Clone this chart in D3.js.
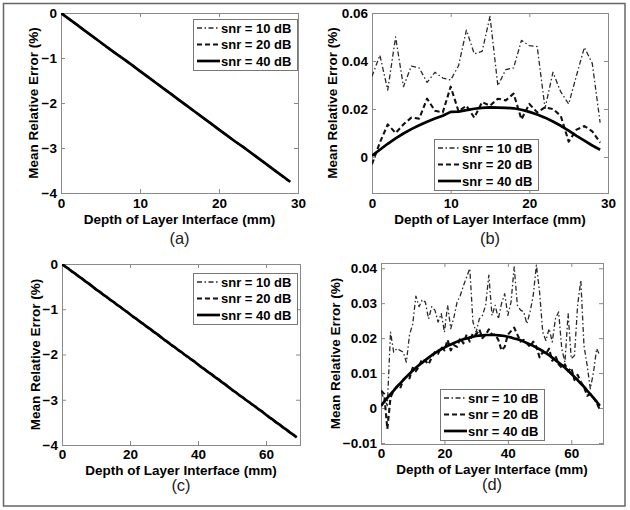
<!DOCTYPE html>
<html><head><meta charset="utf-8">
<script src="https://cdn.jsdelivr.net/npm/d3@7"></script>
<style>body{margin:0;background:#fff}svg{display:block}text{font-family:"Liberation Sans",Arial,Helvetica,sans-serif}</style>
</head><body><svg id="chart" width="630" height="510"></svg>
<script>
// ---------- data ----------
const seriesNames = ["snr = 10 dB", "snr = 20 dB", "snr = 40 dB"];
const captions = ["(a)", "(b)", "(c)", "(d)"];
const xLabel = "Depth of Layer Interface (mm)";
const yLabel = "Mean Relative Error (%)";

const xTicks30 = [0, 10, 20, 30];
const xTicks70 = [0, 20, 40, 60];
const yTicksNeg = [0, -1, -2, -3, -4];
const yTicksB = [0, 0.02, 0.04, 0.06];
const yTicksD = [-0.01, 0, 0.01, 0.02, 0.03, 0.04];

const depth30 = [0,1,2,3,4,5,6,7,8,9,10,11,12,13,14,15,16,17,18,19,20,21,22,23,24,25,26,27,28,29];
const depth70 = [0,1,2,3,4,5,6,7,8,9,10,11,12,13,14,15,16,17,18,19,20,21,22,23,24,25,26,27,28,29,30,31,32,33,34,35,36,37,38,39,40,41,42,43,44,45,46,47,48,49,50,51,52,53,54,55,56,57,58,59,60,61,62,63,64,65,66,67,68,69];

// (a)
const aSnr10 = [0,-0.13,-0.26,-0.39,-0.52,-0.65,-0.78,-0.91,-1.03,-1.16,-1.29,-1.42,-1.55,-1.68,-1.81,-1.94,-2.07,-2.20,-2.33,-2.46,-2.59,-2.72,-2.85,-2.97,-3.10,-3.23,-3.36,-3.49,-3.62,-3.75];
const aSnr20 = [0,-0.13,-0.26,-0.39,-0.52,-0.65,-0.78,-0.91,-1.03,-1.16,-1.29,-1.42,-1.55,-1.68,-1.81,-1.94,-2.07,-2.20,-2.33,-2.46,-2.59,-2.72,-2.85,-2.97,-3.10,-3.23,-3.36,-3.49,-3.62,-3.75];
const aSnr40 = [0,-0.13,-0.26,-0.39,-0.52,-0.65,-0.78,-0.91,-1.03,-1.16,-1.29,-1.42,-1.55,-1.68,-1.81,-1.94,-2.07,-2.20,-2.33,-2.46,-2.59,-2.72,-2.85,-2.97,-3.10,-3.23,-3.36,-3.49,-3.62,-3.75];

// (b)
const bSnr10 = [0.0336,0.0424,0.0279,0.0500,0.0293,0.0379,0.0371,0.0311,0.0353,0.0329,0.0321,0.0380,0.0529,0.0430,0.0440,0.0586,0.0297,0.0364,0.0371,0.0486,0.0464,0.0460,0.0203,0.0353,0.0271,0.0221,0.0340,0.0457,0.0390,0.0143];
const bSnr20 = [-0.0030,0.0060,0.0136,0.0100,0.0136,0.0164,0.0160,0.0243,0.0193,0.0186,0.0293,0.0190,0.0214,0.0164,0.0229,0.0214,0.0243,0.0236,0.0264,0.0157,0.0221,0.0186,0.0207,0.0200,0.0171,0.0064,0.0114,0.0129,0.0107,0.0060];
const bSnr40 = [0.0005,0.0030,0.0055,0.0078,0.0098,0.0116,0.0132,0.0147,0.0160,0.0172,0.0188,0.0189,0.0195,0.0201,0.0205,0.0207,0.0206,0.0205,0.0203,0.0197,0.0188,0.0177,0.0164,0.0148,0.0130,0.0110,0.0088,0.0068,0.0048,0.0030];

// (c)
const cSnr10 = [0,-0.06,-0.11,-0.17,-0.22,-0.28,-0.33,-0.39,-0.44,-0.50,-0.56,-0.61,-0.67,-0.72,-0.78,-0.83,-0.89,-0.94,-1.00,-1.05,-1.11,-1.17,-1.22,-1.28,-1.33,-1.39,-1.44,-1.50,-1.55,-1.61,-1.67,-1.72,-1.78,-1.83,-1.89,-1.94,-2.00,-2.05,-2.11,-2.16,-2.22,-2.28,-2.33,-2.39,-2.44,-2.50,-2.55,-2.61,-2.66,-2.72,-2.78,-2.83,-2.89,-2.94,-3.00,-3.05,-3.11,-3.16,-3.22,-3.27,-3.33,-3.39,-3.44,-3.50,-3.55,-3.61,-3.66,-3.72,-3.77,-3.83];
const cSnr20 = [0,-0.06,-0.11,-0.17,-0.22,-0.28,-0.33,-0.39,-0.44,-0.50,-0.56,-0.61,-0.67,-0.72,-0.78,-0.83,-0.89,-0.94,-1.00,-1.05,-1.11,-1.17,-1.22,-1.28,-1.33,-1.39,-1.44,-1.50,-1.55,-1.61,-1.67,-1.72,-1.78,-1.83,-1.89,-1.94,-2.00,-2.05,-2.11,-2.16,-2.22,-2.28,-2.33,-2.39,-2.44,-2.50,-2.55,-2.61,-2.66,-2.72,-2.78,-2.83,-2.89,-2.94,-3.00,-3.05,-3.11,-3.16,-3.22,-3.27,-3.33,-3.39,-3.44,-3.50,-3.55,-3.61,-3.66,-3.72,-3.77,-3.83];
const cSnr40 = [0,-0.06,-0.11,-0.17,-0.22,-0.28,-0.33,-0.39,-0.44,-0.50,-0.56,-0.61,-0.67,-0.72,-0.78,-0.83,-0.89,-0.94,-1.00,-1.05,-1.11,-1.17,-1.22,-1.28,-1.33,-1.39,-1.44,-1.50,-1.55,-1.61,-1.67,-1.72,-1.78,-1.83,-1.89,-1.94,-2.00,-2.05,-2.11,-2.16,-2.22,-2.28,-2.33,-2.39,-2.44,-2.50,-2.55,-2.61,-2.66,-2.72,-2.78,-2.83,-2.89,-2.94,-3.00,-3.05,-3.11,-3.16,-3.22,-3.27,-3.33,-3.39,-3.44,-3.50,-3.55,-3.61,-3.66,-3.72,-3.77,-3.83];

// (d)
const dSnr10 = [0.0045,0.0026,0.0007,0.0217,0.0160,0.0170,0.0165,0.0160,0.0131,0.0210,0.0240,0.0320,0.0290,0.0310,0.0303,0.0255,0.0290,0.0280,0.0246,0.0270,0.0217,0.0294,0.0227,0.0260,0.0303,0.0322,0.0350,0.0375,0.0399,0.0246,0.0217,0.0255,0.0265,0.0294,0.0380,0.0265,0.0294,0.0255,0.0299,0.0327,0.0265,0.0303,0.0404,0.0294,0.0280,0.0275,0.0241,0.0275,0.0322,0.0409,0.0332,0.0217,0.0193,0.0227,0.0189,0.0255,0.0275,0.0170,0.0131,0.0270,0.0141,0.0150,0.0294,0.0366,0.0179,0.0122,0.0055,0.0102,0.0170,0.0150];
const dSnr20 = [0.0050,0.0040,-0.0060,0.0030,0.0050,0.0060,0.0055,0.0080,0.0090,0.0085,0.0115,0.0105,0.0120,0.0140,0.0135,0.0125,0.0145,0.0160,0.0155,0.0175,0.0165,0.0195,0.0165,0.0180,0.0175,0.0200,0.0185,0.0210,0.0190,0.0215,0.0210,0.0225,0.0200,0.0210,0.0225,0.0210,0.0210,0.0195,0.0165,0.0175,0.0210,0.0220,0.0230,0.0210,0.0190,0.0195,0.0185,0.0175,0.0190,0.0175,0.0145,0.0160,0.0155,0.0170,0.0135,0.0150,0.0125,0.0115,0.0125,0.0105,0.0115,0.0080,0.0095,0.0075,0.0060,0.0035,0.0040,0.0030,0.0015,-0.0005];
const dSnr40 = [0.0006,0.0018,0.0029,0.0040,0.0050,0.0061,0.0070,0.0080,0.0089,0.0098,0.0107,0.0115,0.0123,0.0130,0.0137,0.0144,0.0151,0.0157,0.0163,0.0168,0.0173,0.0178,0.0182,0.0186,0.0190,0.0194,0.0197,0.0199,0.0202,0.0204,0.0206,0.0207,0.0208,0.0209,0.0209,0.0209,0.0209,0.0208,0.0207,0.0206,0.0204,0.0202,0.0199,0.0197,0.0194,0.0190,0.0186,0.0182,0.0178,0.0173,0.0168,0.0163,0.0157,0.0151,0.0144,0.0137,0.0130,0.0123,0.0115,0.0107,0.0098,0.0089,0.0080,0.0070,0.0061,0.0050,0.0040,0.0029,0.0018,0.0006];

// ---------- layout / styles ----------
const lineStyles = [
  {dash: "5,2.5,1.5,2.5", width: 1.3, color: "#2a2a2a"},
  {dash: "5,3", width: 2.1, color: "#111"},
  {dash: null, width: 2.7, color: "#000"}
];

const panels = [
  {box:[61,298,13,193], xd:[0,30], yd:[-4,0], xt:xTicks30, yt:yTicksNeg, depth:depth30,
   series:[aSnr10,aSnr20,aSnr40], leg:[193,19], ylx:33, cap:captions[0], capY:244, labOff:31, tp:5.5},
  {box:[372,608,13,193], xd:[0,30], yd:[-0.015,0.06], xt:xTicks30, yt:yTicksB, depth:depth30,
   series:[bSnr10,bSnr20,bSnr40], leg:[434,139], ylx:332, cap:captions[1], capY:244, labOff:31, tp:5.5},
  {box:[62,300,264,445], xd:[0,70], yd:[-4,0], xt:xTicks70, yt:yTicksNeg, depth:depth70,
   series:[cSnr10,cSnr20,cSnr40], leg:[193,273], ylx:35, cap:captions[2], capY:491, labOff:29.5, tp:4},
  {box:[381,603,263,444], xd:[0,70], yd:[-0.0103,0.0415], xt:xTicks70, yt:yTicksD, depth:depth70,
   series:[dSnr10,dSnr20,dSnr40], leg:[440,389], ylx:335, cap:captions[3], capY:490, labOff:29.5, tp:4}
];

const fmt = v => v === 0 ? "0" : (v < 0 ? "\u2212" + String(Math.abs(v)) : String(v));

const svg = d3.select("#chart");
svg.append("rect").attr("x",3.5).attr("y",3.5).attr("width",621.5).attr("height",502.5)
  .attr("fill","#fff").attr("stroke","#666").attr("stroke-width",1.5);

panels.forEach(p => {
  const [x0,x1,y0,y1] = p.box;
  const x = d3.scaleLinear().domain(p.xd).range([x0,x1]);
  const y = d3.scaleLinear().domain(p.yd).range([y1,y0]);
  const g = svg.append("g");

  const axisColor = "#8a8a8a";
  const styleAxis = sel => {
    sel.select(".domain").remove();
    sel.selectAll(".tick line").attr("stroke", axisColor);
    sel.selectAll("text").attr("fill","#000").attr("font-size","13.5px").attr("font-weight","bold")
       .attr("font-family",'"Liberation Sans",Arial,sans-serif');
  };
  g.append("g").attr("transform",`translate(0,${y1})`)
    .call(d3.axisBottom(x).tickValues(p.xt).tickFormat(fmt).tickSizeInner(-4).tickSizeOuter(0).tickPadding(p.tp))
    .call(styleAxis);
  g.append("g").attr("transform",`translate(0,${y0})`)
    .call(d3.axisTop(x).tickValues(p.xt).tickFormat("").tickSizeInner(-4).tickSizeOuter(0))
    .call(styleAxis);
  g.append("g").attr("transform",`translate(${x0},0)`)
    .call(d3.axisLeft(y).tickValues(p.yt).tickFormat(fmt).tickSizeInner(-4).tickSizeOuter(0).tickPadding(4))
    .call(styleAxis);
  g.append("g").attr("transform",`translate(${x1},0)`)
    .call(d3.axisRight(y).tickValues(p.yt).tickFormat("").tickSizeInner(-4).tickSizeOuter(0))
    .call(styleAxis);

  g.append("rect").attr("x",x0+0.5).attr("y",y0+0.5).attr("width",x1-x0).attr("height",y1-y0)
    .attr("fill","none").attr("stroke",axisColor).attr("stroke-width",1);

  const clipId = "clip" + x0 + "_" + y0;
  svg.append("clipPath").attr("id",clipId).append("rect")
    .attr("x",x0).attr("y",y0).attr("width",x1-x0+1).attr("height",y1-y0+1);

  const line = d3.line().x(d => x(d[0])).y(d => y(d[1]));
  p.series.forEach((s,i) => {
    const st = lineStyles[i];
    g.append("path").datum(p.depth.map((d,k) => [d, s[k]]))
      .attr("clip-path",`url(#${clipId})`)
      .attr("d", line).attr("fill","none").attr("stroke",st.color)
      .attr("stroke-width",st.width).attr("stroke-dasharray",st.dash)
      .attr("stroke-linejoin","round");
  });

  // axis titles
  g.append("text").attr("x",(x0+x1)/2).attr("y",y1+p.labOff).attr("text-anchor","middle")
    .attr("font-size","13.5px").attr("font-weight","bold").text(xLabel);
  g.append("text").attr("transform",`translate(${p.ylx},${(y0+y1)/2}) rotate(-90)`)
    .attr("text-anchor","middle").attr("dy","0.35em")
    .attr("font-size","13.5px").attr("font-weight","bold").text(yLabel);
  g.append("text").attr("x",(x0+x1)/2).attr("y",p.capY).attr("text-anchor","middle")
    .attr("font-size","16.5px").attr("font-weight","normal").attr("fill","#222").text(p.cap);

  // legend
  const [lx,ly] = p.leg;
  const lg = g.append("g").attr("transform",`translate(${lx},${ly})`);
  lg.append("rect").attr("x",0.5).attr("y",0.5).attr("width",104).attr("height",51)
    .attr("fill","#fff").attr("stroke","#777").attr("stroke-width",1);
  seriesNames.forEach((name,i) => {
    const st = lineStyles[i];
    const cy = 9 + i*16.5;
    lg.append("line").attr("x1",4).attr("x2",27).attr("y1",cy).attr("y2",cy)
      .attr("stroke",st.color).attr("stroke-width",st.width).attr("stroke-dasharray",st.dash);
    lg.append("text").attr("x",28).attr("y",cy).attr("dy","0.36em")
      .attr("font-size","13px").attr("font-weight","bold").text(name);
  });
});
</script>
</body></html>
